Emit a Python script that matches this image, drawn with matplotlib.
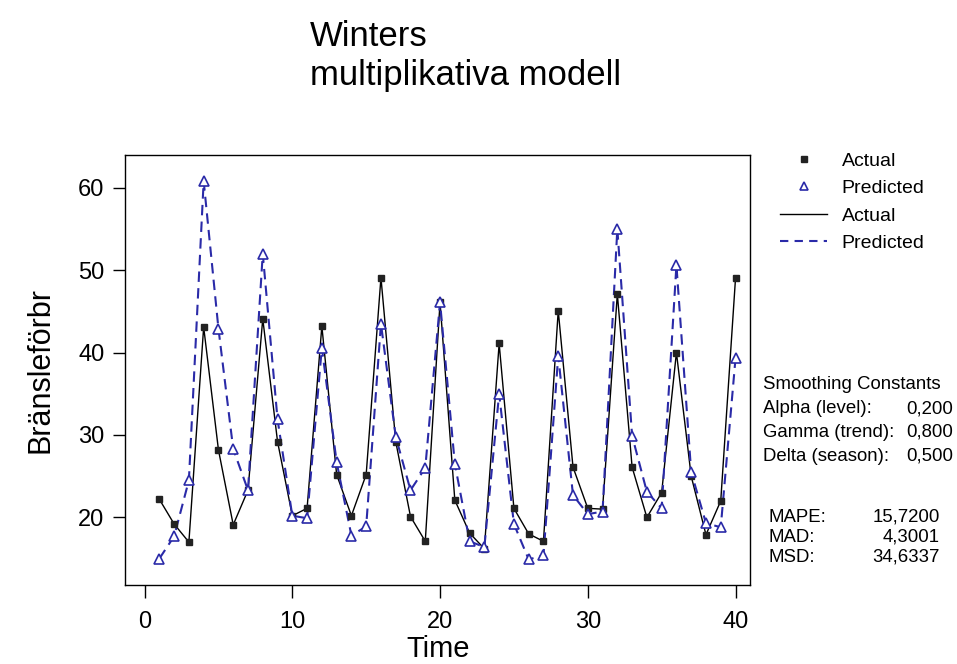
import numpy as np
import matplotlib
matplotlib.use("Agg")
import matplotlib.pyplot as plt
from matplotlib.lines import Line2D

plt.rcParams['font.family'] = ['Liberation Sans', 'DejaVu Sans']

# data
time = np.arange(1, 41)
actual = [22.2, 19.2, 17.0, 43.1, 28.2, 19.1, 23.3, 44.1, 29.2, 20.2,
          21.1, 43.2, 25.2, 20.2, 25.2, 49.1, 29.2, 20.1, 17.1, 46.1,
          22.1, 18.1, 16.2, 41.1, 21.1, 18.0, 17.1, 45.1, 26.1, 21.1,
          21.0, 47.1, 26.1, 20.0, 23.0, 40.0, 25.0, 17.9, 22.0, 49.0]
predicted = [15.0, 17.7, 24.5, 60.8, 42.9, 28.3, 23.3, 52.0, 31.9, 20.2,
             19.9, 40.6, 26.7, 17.8, 18.9, 43.5, 29.8, 23.3, 26.0, 46.1,
             26.5, 17.1, 16.4, 35.0, 19.2, 14.9, 15.4, 39.6, 22.7, 20.4,
             20.7, 55.0, 29.9, 23.1, 21.1, 50.6, 25.5, 19.3, 18.8, 39.3]

const_names = ["Alpha (level):", "Gamma (trend):", "Delta (season):"]
const_vals = ["0,200", "0,800", "0,500"]
acc_names = ["MAPE:", "MAD:", "MSD:"]
acc_vals = ["15,7200", "4,3001", "34,6337"]

blue = "#2a2aa8"

fig = plt.figure(figsize=(9.57, 6.64), dpi=100)
ax = fig.add_axes([0.131, 0.119, 0.653, 0.648])

ax.plot(time, actual, color="black", lw=1.0, zorder=2)
ax.plot(time, predicted, color=blue, lw=1.5, ls=(0, (5, 3)), zorder=3)
ax.plot(time, actual, ls="none", marker="s", ms=4, color="#222222", zorder=4)
ax.plot(time, predicted, ls="none", marker="^", ms=7, mfc="white",
        mec=blue, mew=1.2, zorder=5)

ax.set_xlim(-1.3, 41.0)
ax.set_ylim(11.8, 64.0)
ax.set_xticks([0, 10, 20, 30, 40])
ax.set_yticks([20, 30, 40, 50, 60])
ax.tick_params(direction="out", length=9, width=1, labelsize=17, pad=6)
ax.tick_params(axis="x", pad=10)
for s in ax.spines.values():
    s.set_linewidth(1.0)

ax.set_xlabel("Time", fontsize=21, labelpad=1)
ax.set_ylabel("Bränsleförbr", fontsize=22, labelpad=16)

fig.text(0.324, 0.931, "Winters", fontsize=25, va="baseline")
fig.text(0.324, 0.872, "multiplikativa modell", fontsize=25, va="baseline")

# legend
handles = [
    Line2D([], [], ls="none", marker="s", ms=4, color="#222222"),
    Line2D([], [], ls="none", marker="^", ms=6, mfc="white", mec=blue, mew=1.2),
    Line2D([], [], color="black", lw=1.0),
    Line2D([], [], color=blue, lw=1.5, ls=(0, (4, 3))),
]
fig.legend(handles, ["Actual", "Predicted", "Actual", "Predicted"],
           loc="upper left", bbox_to_anchor=(0.797, 0.797), frameon=False,
           fontsize=14, handlelength=2.4, handletextpad=0.75, labelspacing=0.5)

# smoothing constants block
fig.text(0.797, 0.414, "Smoothing Constants", fontsize=13.4, va="baseline")
for i, (n, v) in enumerate(zip(const_names, const_vals)):
    y = 0.378 - i * 0.036
    fig.text(0.797, y, n, fontsize=13.4, va="baseline")
    fig.text(0.996, y, v, fontsize=13.4, va="baseline", ha="right")
for i, (n, v) in enumerate(zip(acc_names, acc_vals)):
    y = 0.214 - i * 0.030
    fig.text(0.803, y, n, fontsize=13.4, va="baseline")
    fig.text(0.982, y, v, fontsize=13.4, va="baseline", ha="right")

fig.savefig("out.png", dpi=100)
